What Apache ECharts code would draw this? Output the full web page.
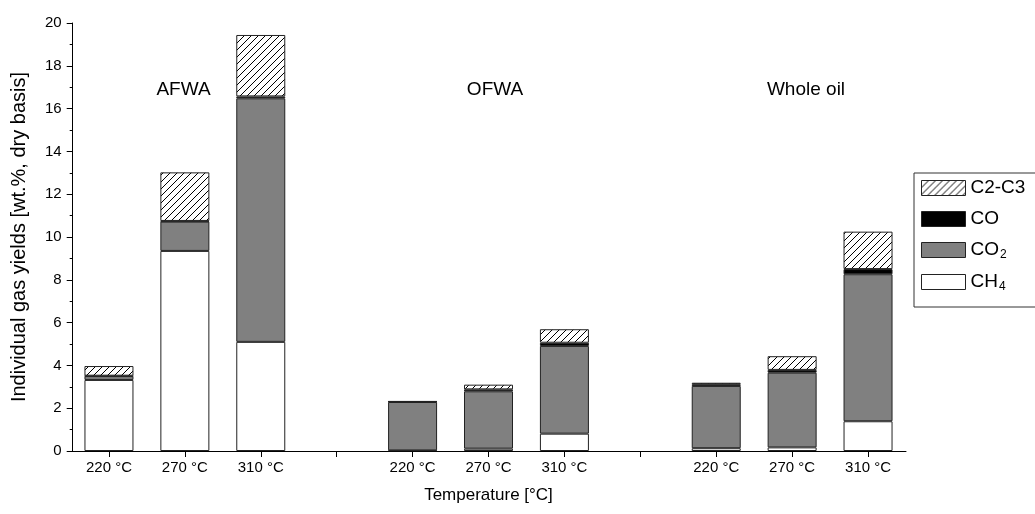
<!DOCTYPE html>
<html>
<head>
<meta charset="utf-8">
<script src="https://cdn.jsdelivr.net/npm/echarts@6/dist/echarts.min.js"></script>
<style>
  html, body { margin: 0; padding: 0; background: #fff; }
  #chart { width: 1035px; height: 514px; }
</style>
</head>
<body>
<div id="chart"></div>
<script>
// Temperature categories for the three feedstocks; '' marks the gap between groups
const categories = ['220 °C', '270 °C', '310 °C', '', '220 °C', '270 °C', '310 °C', '', '220 °C', '270 °C', '310 °C'];
const groupNames = ['AFWA', 'OFWA', 'Whole oil'];

// Gas yields, wt.% dry basis (stacked bottom to top: CH4, CO2, CO, C2-C3)
const ch4  = [3.32, 9.35, 5.10, '-', 0.03, 0.11, 0.81, '-', 0.13, 0.17, 1.39];
const co2  = [0.18, 1.37, 11.38, '-', 2.26, 2.68, 4.10, '-', 2.91, 3.49, 6.87];
const co   = [0.02, 0.03, 0.09, '-', 0.02, 0.09, 0.15, '-', 0.08, 0.13, 0.24];
const c2c3 = [0.45, 2.27, 2.87, '-', 0.01, 0.22, 0.63, '-', 0.07, 0.64, 1.75];

const FONT = 'Liberation Sans, Arial, sans-serif';

// Diagonal hatch fill for the C2-C3 segments
function hatchPattern() {
  const s = 7;
  const c = document.createElement('canvas');
  c.width = s; c.height = s;
  const g = c.getContext('2d');
  g.fillStyle = '#fff';
  g.fillRect(0, 0, s, s);
  g.strokeStyle = '#000';
  g.lineWidth = 1;
  g.beginPath();
  g.moveTo(0, s); g.lineTo(s, 0);
  g.moveTo(-1, 1); g.lineTo(1, -1);
  g.moveTo(s - 1, s + 1); g.lineTo(s + 1, s - 1);
  g.stroke();
  return { image: c, repeat: 'repeat' };
}

const border = { borderColor: '#222', borderWidth: 1 };

function barSeries(name, data, color) {
  return {
    name: name,
    type: 'bar',
    stack: 'gas',
    barWidth: 49,
    data: data,
    itemStyle: Object.assign({ color: color }, border),
    emphasis: { disabled: true }
  };
}

const chart = echarts.init(document.getElementById('chart'), null, { renderer: 'canvas' });

chart.setOption({
  animation: false,
  backgroundColor: '#fff',
  textStyle: { fontFamily: FONT, color: '#000' },
  grid: { left: 71, width: 835, top: 23, bottom: 63, containLabel: false },
  xAxis: {
    type: 'category',
    data: categories,
    name: 'Temperature [°C]',
    nameLocation: 'middle',
    nameGap: 36,
    nameTextStyle: { fontSize: 17, color: '#000', fontFamily: FONT },
    axisLine: { lineStyle: { color: '#000', width: 1 } },
    axisTick: { show: true, alignWithLabel: true, interval: 0, length: 6, lineStyle: { color: '#000' } },
    axisLabel: { interval: 0, fontSize: 15, color: '#000', fontFamily: FONT, margin: 9 },
    splitLine: { show: false }
  },
  yAxis: {
    type: 'value',
    min: 0, max: 20, interval: 2,
    offset: -1.7,
    name: 'Individual gas yields [wt.%, dry basis]',
    nameLocation: 'middle',
    nameGap: 43,
    nameTextStyle: { fontSize: 20, color: '#000', fontFamily: FONT },
    axisLine: { show: true, lineStyle: { color: '#000', width: 1 } },
    axisTick: { show: true, length: 6, lineStyle: { color: '#000' } },
    minorTick: { show: true, splitNumber: 2, length: 3, lineStyle: { color: '#000' } },
    axisLabel: { fontSize: 15, color: '#000', fontFamily: FONT, margin: 11 },
    splitLine: { show: false }
  },
  legend: {
    orient: 'vertical',
    left: 914,
    top: 173,
    data: ['C2-C3', 'CO', 'CO2', 'CH4'],
    icon: 'rect',
    itemWidth: 44,
    itemHeight: 15,
    itemGap: 11,
    padding: [5, 40, 14, 7],
    borderColor: '#333',
    borderWidth: 1,
    selectedMode: false,
    formatter: function (name) {
      if (name === 'CO2') return 'CO{s|2}';
      if (name === 'CH4') return 'CH{s|4}';
      return name;
    },
    textStyle: {
      fontSize: 19, color: '#000', fontFamily: FONT, lineHeight: 20, height: 20,
      rich: { s: { fontSize: 12, fontFamily: FONT, color: '#000', padding: [10, 0, 0, 1] } }
    },
    itemStyle: { borderColor: '#222', borderWidth: 1 }
  },
  graphic: groupNames.map(function (t, i) {
    const xs = [183.5, 495, 806];
    return {
      type: 'text',
      x: xs[i], y: 90,
      style: { text: t, fontSize: 19, fontFamily: FONT, fill: '#000', align: 'center', verticalAlign: 'middle' }
    };
  }),
  series: [
    barSeries('CH4', ch4, '#ffffff'),
    barSeries('CO2', co2, '#808080'),
    barSeries('CO', co, '#000000'),
    barSeries('C2-C3', c2c3, hatchPattern())
  ]
});
</script>
</body>
</html>
